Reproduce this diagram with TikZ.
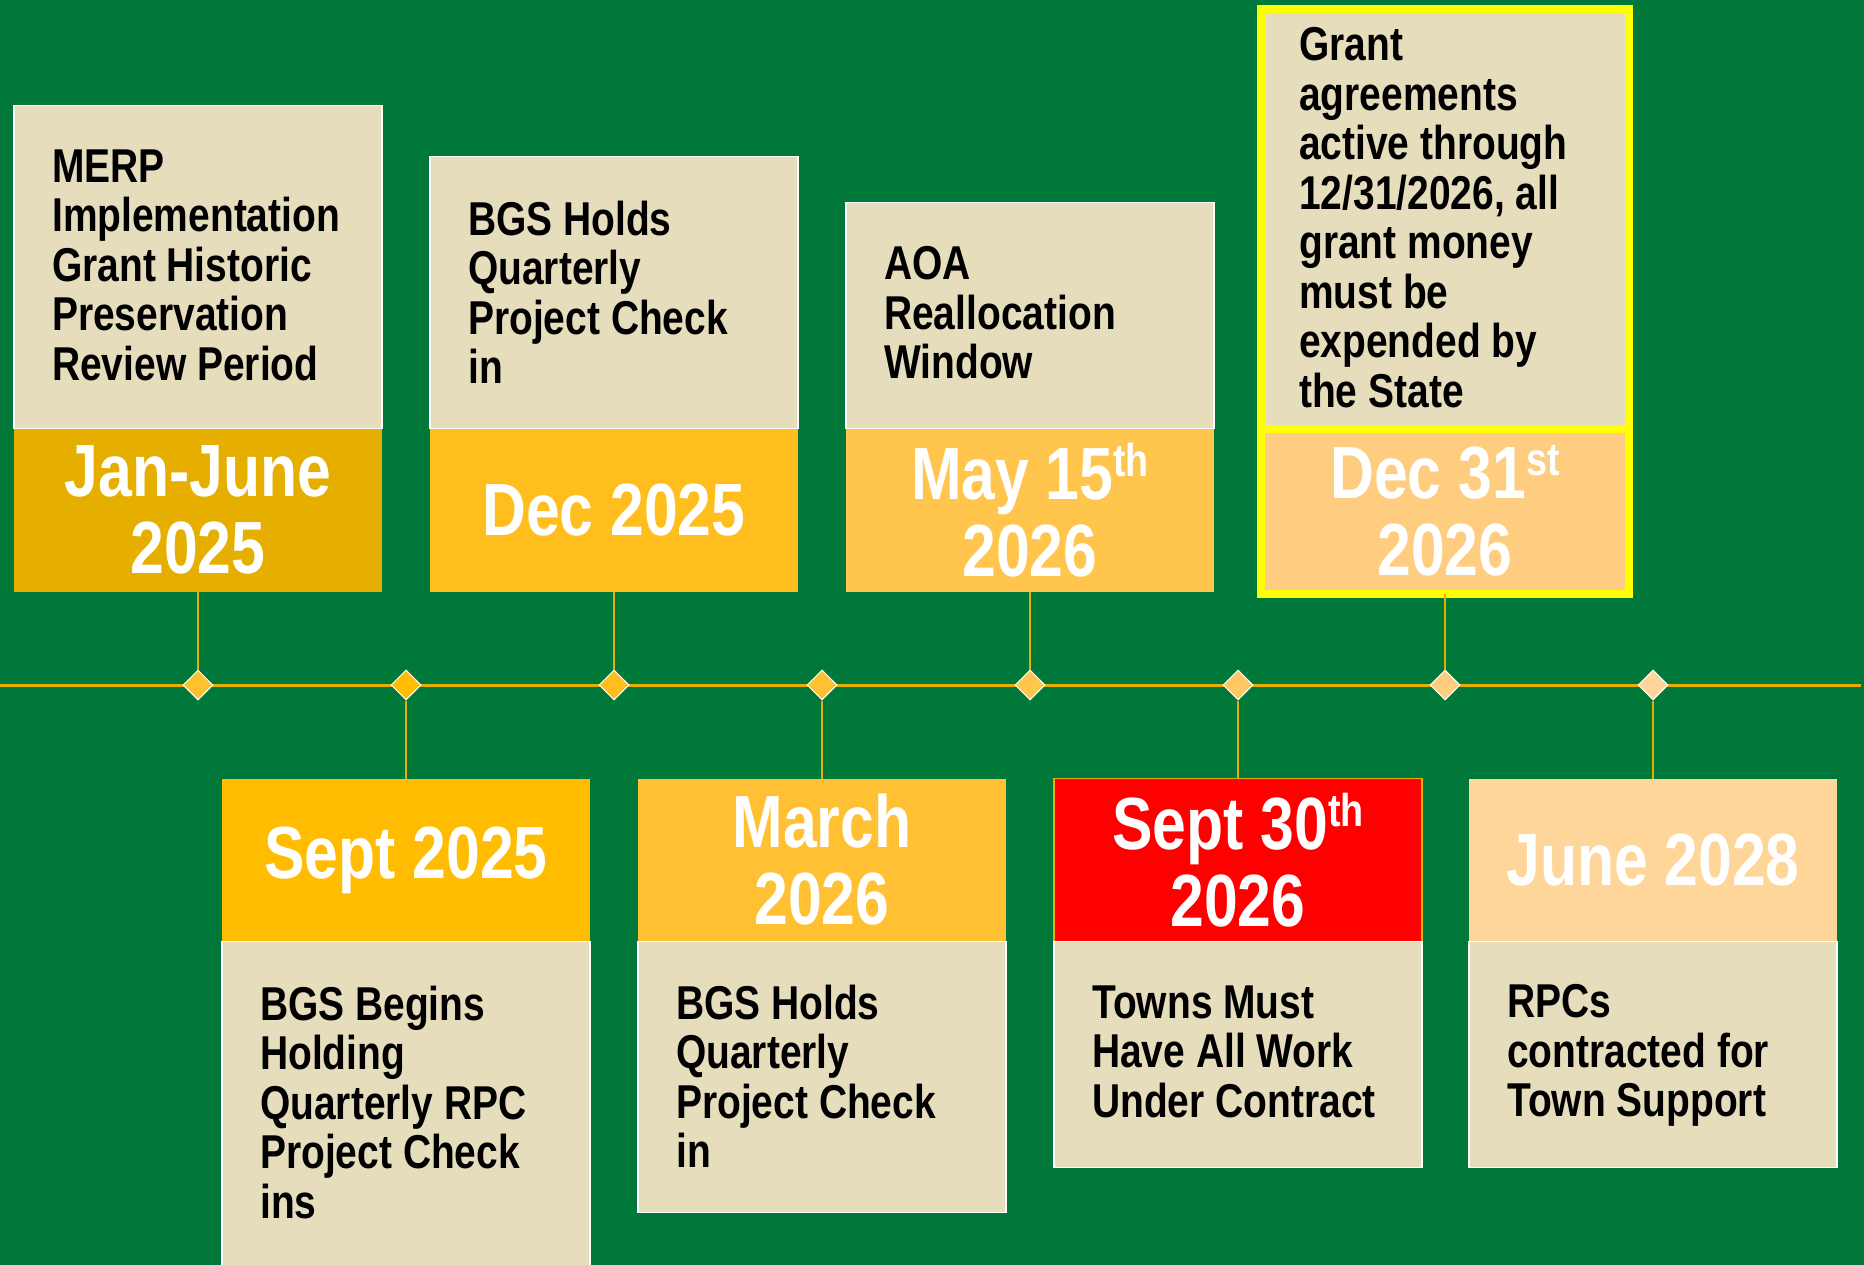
\documentclass[tikz,border=0pt]{standalone}
\usepackage{fontspec}
\setmainfont{Liberation Sans}[FakeStretch=0.82]
\usetikzlibrary{%
  positioning,% wg. " of "
  shapes.geometric,% diamond
  calc
}

\definecolor{bggreen}{RGB}{0,120,58}
\definecolor{bodytan}{RGB}{230,221,189}
\definecolor{linegold}{RGB}{230,175,0}
\definecolor{dateA}{RGB}{230,175,0}
\definecolor{dateB}{RGB}{255,188,0}
\definecolor{dateC}{RGB}{255,190,30}
\definecolor{dateD}{RGB}{255,193,51}
\definecolor{dateE}{RGB}{255,197,77}
\definecolor{dateF}{RGB}{255,0,0}
\definecolor{dateG}{RGB}{255,205,128}
\definecolor{dateH}{RGB}{255,214,153}
\definecolor{markA}{RGB}{255,193,45}
\definecolor{markF}{RGB}{255,200,100}
\definecolor{hiyellow}{RGB}{255,255,0}

\newcommand{\ordsup}[1]{\raisebox{23pt}{\fontsize{46}{46}\selectfont #1}}
\hyphenpenalty=10000

\begin{document}
\begin{tikzpicture}
  [
  x=1pt, y=-1pt,
  datebox/.style={rectangle, minimum width=368pt, minimum height=163pt, inner sep=0pt, outer sep=0pt,
    text=white, align=center, font=\fontsize{74}{77}\selectfont\bfseries},
  bodybox/.style={rectangle, minimum width=368pt, inner sep=0pt, outer sep=0pt,
    fill=bodytan, draw=white, line width=1.5pt},
  bodytext/.style={anchor=north west, inner sep=0pt, align=left,
    font=\fontsize{47.5}{49.5}\selectfont\bfseries},
  marker/.style={diamond, minimum width=30pt, minimum height=30pt, inner sep=0pt,
    draw=white, line width=1pt},
  stem/.style={draw=linegold, line width=1.5pt}
  ]

  \useasboundingbox (0,0) rectangle (1864,1265);
  \fill[bggreen] (0,0) rectangle (1864,1265);

  % time line
  \coordinate (tl) at (0,685);
  \coordinate (tr) at (1861,685);
  \draw[linegold, line width=3pt] (tl) -- (tr);

  % upper boxes
  \node[datebox, fill=dateA] (d1) at (198,510) {Jan-June\\2025};
  \node[bodybox, minimum height=323pt, above=0pt of d1] (b1) {};
  \node[bodytext] (t1) at ([xshift=38pt,yshift=-44pt]b1.north west)
    {MERP\\Implementation\\Grant Historic\\Preservation\\Review Period};

  \node[datebox, fill=dateC] (d3) at (614,510) {Dec 2025};
  \node[bodybox, minimum height=272pt, above=0pt of d3] (b3) {};
  \node[bodytext] (t3) at ([xshift=38pt,yshift=-44pt]b3.north west)
    {BGS Holds\\Quarterly\\Project Check\\in};

  \node[datebox, fill=dateE] (d5) at (1030,510) {May 15\ordsup{th}\\2026};
  \node[bodybox, minimum height=226pt, above=0pt of d5] (b5) {};
  \node[bodytext] (t5) at ([xshift=38pt,yshift=-44pt]b5.north west)
    {AOA\\Reallocation\\Window};

  \node[datebox, fill=dateG, draw=hiyellow, line width=8pt, minimum height=165pt] (d7) at (1445,511) {Dec 31\ordsup{st}\\2026};
  \node[bodybox, minimum height=419pt, above=0pt of d7, draw=hiyellow, line width=8pt] (b7) {};
  \node[bodytext] (t7) at ([xshift=38pt,yshift=-18pt]b7.north west)
    {Grant\\agreements\\active through\\12/31/2026, all\\grant money\\must be\\expended by\\the State};

  % lower boxes
  \node[datebox, fill=dateB] (d2) at (406,860) {Sept 2025};
  \node[bodybox, minimum height=349pt, below=0pt of d2] (b2) {};
  \node[bodytext] (t2) at ([xshift=38pt,yshift=-44pt]b2.north west)
    {BGS Begins\\Holding\\Quarterly RPC\\Project Check\\ins};

  \node[datebox, fill=dateD] (d4) at (822,860) {March\\2026};
  \node[bodybox, minimum height=271pt, below=0pt of d4] (b4) {};
  \node[bodytext] (t4) at ([xshift=38pt,yshift=-43pt]b4.north west)
    {BGS Holds\\Quarterly\\Project Check\\in};

  \node[datebox, fill=dateF, draw=linegold, line width=1.5pt] (d6) at (1238,860) {Sept 30\ordsup{th}\\2026};
  \node[bodybox, minimum height=226pt, below=0pt of d6] (b6) {};
  \node[bodytext] (t6) at ([xshift=38pt,yshift=-44pt]b6.north west)
    {Towns Must\\Have All Work\\Under Contract};

  \node[datebox, fill=dateH] (d8) at (1653,860) {June 2028};
  \node[bodybox, minimum height=226pt, below=0pt of d8] (b8) {};
  \node[bodytext] (t8) at ([xshift=38pt,yshift=-43pt]b8.north west)
    {RPCs\\contracted for\\Town Support};

  % markers on the line
  \foreach \i/\cx/\col in {1/198/markA, 2/406/dateB, 3/614/dateC, 4/822/dateD,
                            5/1030/dateE, 6/1238/markF, 7/1445/dateG, 8/1653/dateH} {
    \node[marker, fill=\col] (m\i) at (\cx,685) {};
  }

  \foreach \i in {1,3,5,7} {
    \draw[stem] (d\i.south) -- (m\i.north);
  }
  \foreach \i in {2,4,6,8} {
    \draw[stem] (m\i.south) -- (d\i.north);
  }
\end{tikzpicture}
\end{document}
